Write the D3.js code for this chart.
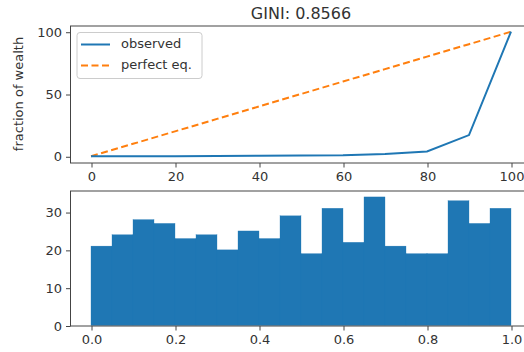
<!DOCTYPE html>
<html>
<head>
<meta charset="utf-8">
<script src="https://cdn.jsdelivr.net/npm/d3@7"></script>
<style>
  body { margin: 0; background: #fff; }
  svg { display: block; }
  text { font-family: "DejaVu Sans", sans-serif; fill: #333; }
</style>
</head>
<body>
<svg id="chart" width="524" height="352"></svg>
<script>
// Lorenz curve (percent of population vs percent of wealth)
const popPct = [0, 10, 20, 30, 40, 50, 60, 70, 80, 90, 100];
const observed = [0, 0.05, 0.1, 0.2, 0.35, 0.55, 0.8, 1.8, 3.8, 17, 100];
const perfectEq = [0, 10, 20, 30, 40, 50, 60, 70, 80, 90, 100];

// histogram of wealth draws, 20 bins over [0, 1]
const binEdges = [0, 0.05, 0.1, 0.15, 0.2, 0.25, 0.3, 0.35, 0.4, 0.45, 0.5,
                  0.55, 0.6, 0.65, 0.7, 0.75, 0.8, 0.85, 0.9, 0.95, 1.0];
const counts = [21, 24, 28, 27, 23, 24, 20, 25, 23, 29, 19, 31, 22, 34, 21, 19, 19, 33, 27, 31];

const topTicksX = [0, 20, 40, 60, 80, 100];
const topTicksY = [0, 50, 100];
const botTicksX = [0, 0.2, 0.4, 0.6, 0.8, 1.0];
const botTicksY = [0, 10, 20, 30];

const blue = "#1f77b4", orange = "#ff7f0e";
const svg = d3.select("#chart");

const left = 70, right = 532;

function styleAxis(g) {
  g.selectAll(".domain").remove();
  g.selectAll(".tick line").attr("stroke", "#444");
  g.selectAll(".tick text").style("font-size", "13px").attr("fill", "#333");
}

function frame(top, bottom) {
  svg.append("rect")
    .attr("x", left + 0.5).attr("y", top + 0.5)
    .attr("width", right - left).attr("height", bottom - top)
    .attr("fill", "none").attr("stroke", "#444").attr("stroke-width", 1);
}

// ---- top panel ----
const t = { top: 25.5, bottom: 162.5 };
const x1 = d3.scaleLinear().domain([-5, 105]).range([left, right]);
const y1 = d3.scaleLinear().domain([-5, 105]).range([t.bottom, t.top]);

const line = d3.line().x((d, i) => x1(popPct[i])).y(d => y1(d));

svg.append("path")
  .datum(perfectEq)
  .attr("d", line)
  .attr("fill", "none")
  .attr("stroke", orange)
  .attr("stroke-width", 2)
  .attr("stroke-dasharray", "7,3.5");

svg.append("path")
  .datum(observed)
  .attr("d", line)
  .attr("fill", "none")
  .attr("stroke", blue)
  .attr("stroke-width", 2);

frame(t.top, t.bottom);

svg.append("g")
  .attr("transform", `translate(0.5,${t.bottom + 0.5})`)
  .call(d3.axisBottom(x1).tickValues(topTicksX).tickSize(4.5).tickPadding(4))
  .call(styleAxis);

svg.append("g")
  .attr("transform", `translate(${left + 0.5},0.5)`)
  .call(d3.axisLeft(y1).tickValues(topTicksY).tickSize(4.5).tickPadding(4))
  .call(styleAxis);

svg.append("text")
  .attr("transform", `translate(19,${(t.top + t.bottom) / 2}) rotate(-90)`)
  .attr("text-anchor", "middle")
  .attr("dominant-baseline", "middle")
  .style("font-size", "13px")
  .text("fraction of wealth");

svg.append("text")
  .attr("x", (left + right) / 2)
  .attr("y", 19)
  .attr("text-anchor", "middle")
  .style("font-size", "16px")
  .text("GINI: 0.8566");

// legend
const lg = svg.append("g").attr("transform", "translate(77,32.5)");
lg.append("rect")
  .attr("width", 125).attr("height", 46).attr("rx", 3)
  .attr("fill", "#fff").attr("fill-opacity", 0.8)
  .attr("stroke", "#ccc");
const items = [
  { label: "observed", color: blue, dash: null },
  { label: "perfect eq.", color: orange, dash: "7,3.5" }
];
items.forEach((d, i) => {
  const yy = 12 + i * 21;
  lg.append("line")
    .attr("x1", 4).attr("x2", 33).attr("y1", yy).attr("y2", yy)
    .attr("stroke", d.color).attr("stroke-width", 2)
    .attr("stroke-dasharray", d.dash);
  lg.append("text")
    .attr("x", 44).attr("y", yy)
    .attr("dominant-baseline", "middle")
    .style("font-size", "13px")
    .text(d.label);
});

// ---- bottom panel ----
const b = { top: 190.5, bottom: 325.5 };
const x2 = d3.scaleLinear().domain([-0.05, 1.05]).range([left, right]);
const y2 = d3.scaleLinear().domain([0, 34 * 1.05]).range([b.bottom, b.top]);

svg.append("g")
  .selectAll("rect")
  .data(counts)
  .join("rect")
  .attr("x", (d, i) => x2(binEdges[i]))
  .attr("width", (d, i) => x2(binEdges[i + 1]) - x2(binEdges[i]))
  .attr("y", d => y2(d))
  .attr("height", d => y2(0) - y2(d))
  .attr("fill", blue)
  .attr("stroke", blue)
  .attr("stroke-width", 0.3);

frame(b.top, b.bottom);

svg.append("g")
  .attr("transform", `translate(0.5,${b.bottom + 0.5})`)
  .call(d3.axisBottom(x2).tickValues(botTicksX).tickFormat(d3.format(".1f")).tickSize(4.5).tickPadding(4))
  .call(styleAxis);

svg.append("g")
  .attr("transform", `translate(${left + 0.5},0.5)`)
  .call(d3.axisLeft(y2).tickValues(botTicksY).tickSize(4.5).tickPadding(4))
  .call(styleAxis);
</script>
</body>
</html>
